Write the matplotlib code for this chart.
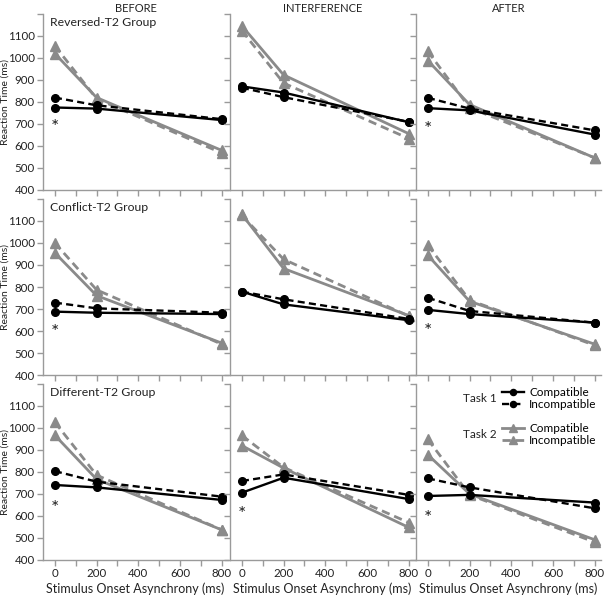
import matplotlib
matplotlib.use("Agg")
import matplotlib.pyplot as plt
from matplotlib.ticker import FixedLocator, NullFormatter, FixedFormatter

plt.rcParams['font.family'] = ['Lato', 'DejaVu Sans']

soa = [0, 200, 800]
groups = ["Reversed-T2 Group", "Conflict-T2 Group", "Different-T2 Group"]
phases = ["BEFORE", "INTERFERENCE", "AFTER"]

# [row][col] -> values at soa
t1_comp = [
    [[775, 770, 718], [871, 843, 708], [772, 762, 652]],
    [[688, 683, 677], [779, 721, 649], [696, 677, 638]],
    [[741, 730, 673], [706, 774, 677], [691, 696, 661]],
]
t1_incomp = [
    [[820, 785, 722], [865, 822, 710], [819, 770, 671]],
    [[729, 703, 683], [779, 744, 655], [751, 691, 638]],
    [[804, 756, 688], [759, 789, 696], [771, 730, 635]],
]
t2_comp = [
    [[1020, 820, 580], [1146, 923, 656], [988, 788, 546]],
    [[955, 761, 545], [1130, 884, 670], [944, 735, 540]],
    [[967, 767, 537], [920, 818, 548], [878, 700, 492]],
]
t2_incomp = [
    [[1055, 815, 568], [1124, 886, 634], [1030, 774, 546]],
    [[1000, 787, 540], [1125, 926, 668], [990, 740, 535]],
    [[1026, 786, 537], [966, 821, 570], [948, 696, 481]],
]
star_y = [
    [710, None, 699],
    [620, None, 623],
    [661, 631, 616],
]

yticks = [400, 500, 600, 700, 800, 900, 1000, 1100, 1200]
ytick_labels = ["400", "500", "600", "700", "800", "900", "1000", "1100", ""]
xticks_major = [0, 200, 400, 600, 800]
xticks_minor = [100, 300, 500, 700]

W, H = 605, 597
fig = plt.figure(figsize=(W / 100, H / 100), dpi=100)

col_left = [43, 230, 416]
col_w = 185
row_top = [14, 199, 384]
row_h = 176

GRAY = "#8a8a8a"
SPINE = "#9a9a9a"
TXT = "#222222"

for r in range(3):
    for c in range(3):
        ax = fig.add_axes([col_left[c] / W, (H - row_top[r] - row_h) / H, col_w / W, row_h / H])
        ax.set_xlim(-57, 830)
        ax.set_ylim(400, 1200)
        for s in ["top", "right"]:
            ax.spines[s].set_visible(False)
        for s in ["left", "bottom"]:
            ax.spines[s].set_color(SPINE)
            ax.spines[s].set_linewidth(1.0)
        ax.yaxis.set_major_locator(FixedLocator(yticks))
        ax.xaxis.set_major_locator(FixedLocator(xticks_major))
        ax.xaxis.set_minor_locator(FixedLocator(xticks_minor))
        ax.tick_params(axis="both", which="both", direction="out", length=4, width=1,
                       color=SPINE, labelsize=8.3, labelcolor=TXT, pad=2)
        if c == 0:
            ax.yaxis.set_major_formatter(FixedFormatter(ytick_labels))
            ax.set_ylabel("Reaction Time (ms)", fontsize=7.5, color=TXT, va="center")
            ax.yaxis.set_label_coords(-38 / col_w, 0.5)
        else:
            ax.yaxis.set_major_formatter(NullFormatter())
        if r == 2:
            ax.set_xlabel("Stimulus Onset Asynchrony (ms)", fontsize=9, labelpad=2, color=TXT)
        else:
            ax.xaxis.set_major_formatter(NullFormatter())

        l_t2c, = ax.plot(soa, t2_comp[r][c], color=GRAY, lw=2, marker="^", ms=6.5,
                         label="Compatible", zorder=2)
        l_t2i, = ax.plot(soa, t2_incomp[r][c], color=GRAY, lw=2, ls=(0, (3, 1.8)), marker="^", ms=6.5,
                         label="Incompatible", zorder=2)
        l_t1c, = ax.plot(soa, t1_comp[r][c], color="black", lw=1.7, marker="o", ms=5.5,
                         label="Compatible", zorder=3)
        l_t1i, = ax.plot(soa, t1_incomp[r][c], color="black", lw=1.7, ls=(0, (3, 1.8)), marker="o", ms=5.5,
                         label="Incompatible", zorder=3)

        if star_y[r][c] is not None:
            ax.annotate("*", (0, star_y[r][c]), xytext=(0, -4), textcoords="offset points",
                        ha="center", va="center", fontsize=14, color=TXT)

        if r == 0:
            ax.set_title(phases[c], fontsize=8, pad=1, color=TXT)
        if c == 0:
            ax.text(0.04, 0.985, groups[r], transform=ax.transAxes, ha="left", va="top",
                    fontsize=8.8, color=TXT)

        if r == 2 and c == 2:
            lx = (502 - col_left[2]) / col_w
            common = dict(loc="upper left", frameon=False, fontsize=8.5, handlelength=1.9,
                          handletextpad=0.4, labelspacing=0.1, borderpad=0, borderaxespad=0,
                          numpoints=1, markerscale=0.8)
            leg1 = ax.legend(handles=[l_t1c, l_t1i],
                             bbox_to_anchor=(lx, 1 - (387 - row_top[2]) / row_h), **common)
            ax.add_artist(leg1)
            ax.legend(handles=[l_t2c, l_t2i],
                      bbox_to_anchor=(lx, 1 - (423 - row_top[2]) / row_h), **common)
            ax.text((497 - col_left[2]) / col_w, 1 - (399 - row_top[2]) / row_h, "Task 1",
                    transform=ax.transAxes, ha="right", va="center", fontsize=8.5, color=TXT)
            ax.text((497 - col_left[2]) / col_w, 1 - (435 - row_top[2]) / row_h, "Task 2",
                    transform=ax.transAxes, ha="right", va="center", fontsize=8.5, color=TXT)

fig.savefig("out.png", dpi=100)
